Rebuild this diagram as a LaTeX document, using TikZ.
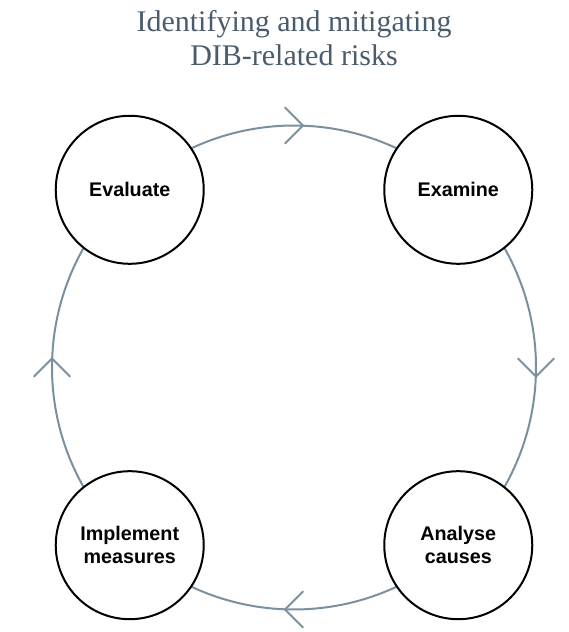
\documentclass[tikz,border=0pt]{standalone}
\usepackage{fontspec}
\setmainfont{Liberation Serif}
\newfontfamily\labelfont{Liberation Sans}
\usetikzlibrary{calc,decorations.markings,backgrounds}
\definecolor{ringcol}{HTML}{7B909E}
\definecolor{titlecol}{HTML}{4A5C6C}
\tikzset{
  stage/.style={circle, draw=black, line width=1.5pt, fill=white, minimum size=111pt, inner sep=0pt,
    align=center, font=\labelfont\bfseries\fontsize{14.8}{17}\selectfont},
  ring/.style={draw=ringcol, line width=1.5pt,
    postaction={decorate, decoration={markings, mark=at position 0.5 with {
      \draw[ringcol, line width=1.5pt, line cap=round, line join=miter] (-6.75pt,13.5pt) -- (6.75pt,0pt) -- (-6.75pt,-13.5pt);}}}},
}
\begin{document}
\begin{tikzpicture}[x=0.75pt,y=0.75pt]
\useasboundingbox (0,0) rectangle (568,632);
\coordinate (O) at (294,264.5);
\node[font=\fontsize{22.5}{25.5}\selectfont, text=titlecol, align=center, anchor=base] (title) at (294,566) {Identifying and mitigating\\DIB-related risks};
\node[stage] (ev) at ($(O)+(132.75:242)$) {Evaluate};
\node[stage] (ex) at ($(O)+(47.25:242)$) {Examine};
\node[stage] (an) at ($(O)+(-47.25:242)$) {Analyse\\causes};
\node[stage] (im) at ($(O)+(227.25:242)$) {Implement\\measures};
\begin{pgfonlayer}{background}
\draw[ring] (ev.center) arc[start angle=132.75, end angle=47.25, radius=242];
\draw[ring] (ex.center) arc[start angle=47.25, end angle=-47.25, radius=242];
\draw[ring] (an.center) arc[start angle=-47.25, end angle=-132.75, radius=242];
\draw[ring] (im.center) arc[start angle=227.25, end angle=132.75, radius=242];
\end{pgfonlayer}
\end{tikzpicture}
\end{document}
